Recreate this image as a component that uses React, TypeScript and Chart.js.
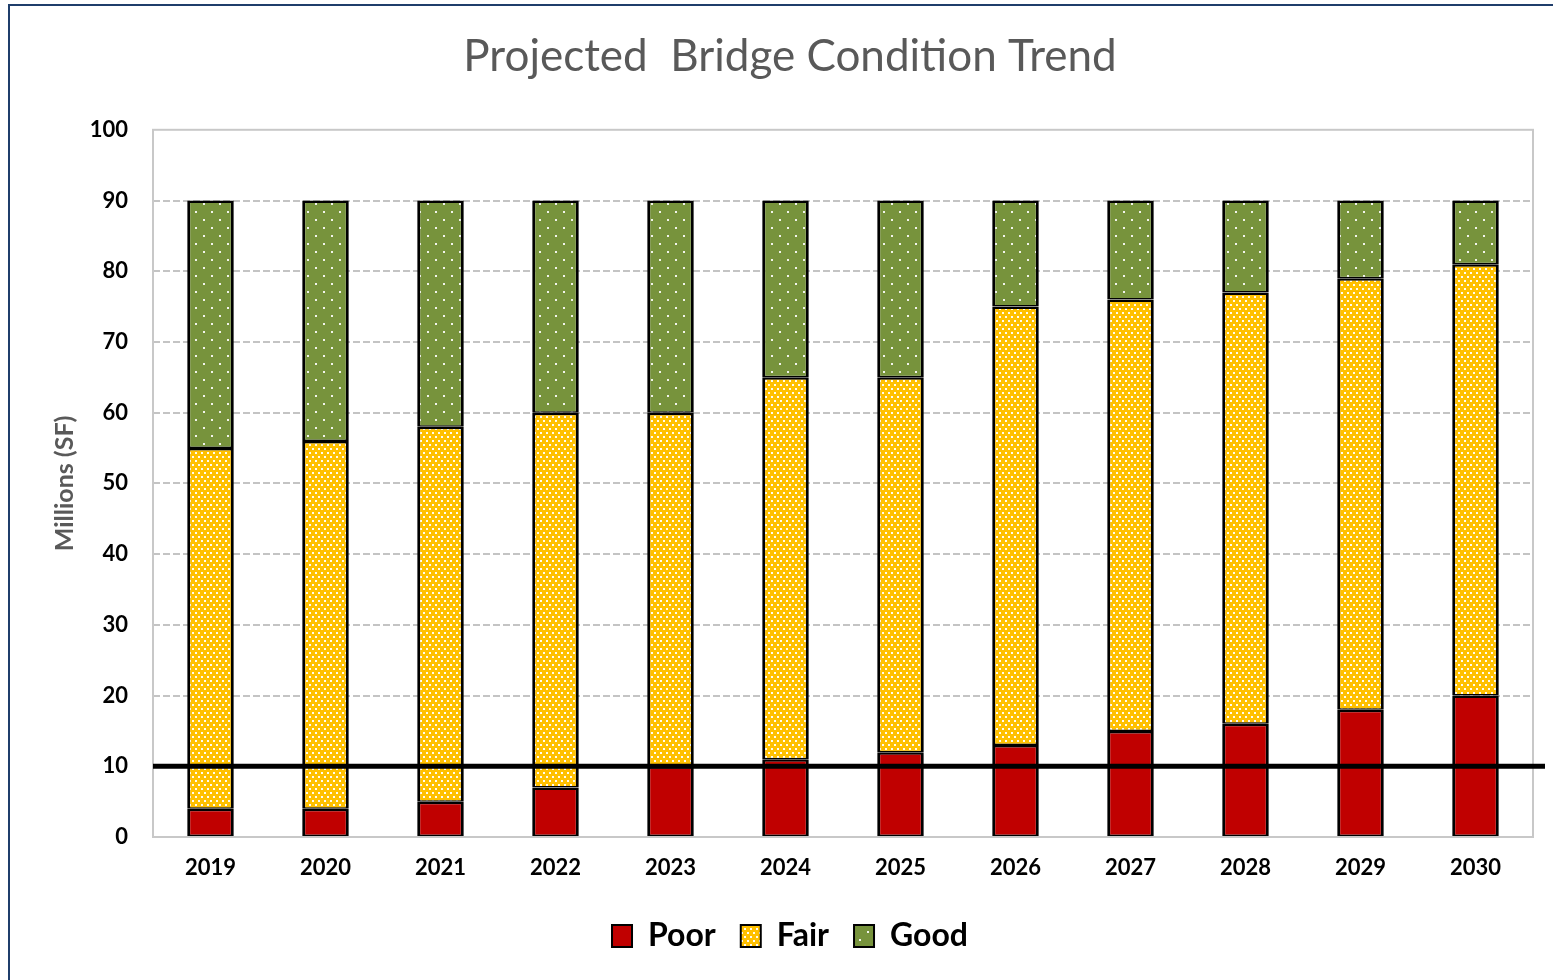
import React, { useEffect, useRef } from 'react';
import { Chart, registerables } from 'chart.js';

Chart.register(...registerables);

const years = ['2019', '2020', '2021', '2022', '2023', '2024', '2025', '2026', '2027', '2028', '2029', '2030'];
const poorValues = [4, 4, 5, 7, 10, 11, 12, 13, 15, 16, 18, 20];
const fairValues = [51, 52, 53, 53, 50, 54, 53, 62, 61, 61, 61, 61];
const goodValues = [35, 34, 32, 30, 30, 25, 25, 15, 14, 13, 11, 9];
const seriesNames = ['Poor', 'Fair', 'Good'];
const thresholdValue = 10;
const chartTitle = 'Projected  Bridge Condition Trend';
const yAxisTitle = 'Millions (SF)';

const FONT = 'Lato';

function makePattern(bg: string, dots: number[][], w: number, h: number, size: number, alpha: number) {
  const c = document.createElement('canvas');
  c.width = w;
  c.height = h;
  const ctx = c.getContext('2d')!;
  ctx.fillStyle = bg;
  ctx.fillRect(0, 0, w, h);
  ctx.fillStyle = `rgba(255,255,255,${alpha})`;
  dots.forEach(([x, y]) => ctx.fillRect(x, y, size, size));
  const main = document.createElement('canvas').getContext('2d')!;
  return main.createPattern(c, 'repeat') as CanvasPattern;
}

export default function App() {
  const ref = useRef<HTMLCanvasElement | null>(null);

  useEffect(() => {
    if (!ref.current) return;
    const fairPattern = makePattern('#FFC000', [[0, 0], [3, 4]], 6, 8, 2, 0.95);
    const goodPattern = makePattern('#77933C', [[3, 3], [11, 11]], 16, 16, 2, 0.9);
    const bw = { left: 3, right: 3, top: 2.5, bottom: 1.5 };

    const plotFrame = {
      id: 'plotFrame',
      beforeDatasetsDraw(chart: any) {
        const { ctx, chartArea } = chart;
        ctx.save();
        ctx.strokeStyle = '#c8c8c8';
        ctx.lineWidth = 2;
        ctx.strokeRect(chartArea.left, chartArea.top, chartArea.right - chartArea.left, chartArea.bottom - chartArea.top);
        ctx.restore();
      },
    };

    const threshold = {
      id: 'threshold',
      afterDatasetsDraw(chart: any) {
        const { ctx, chartArea, scales } = chart;
        const y = scales.y.getPixelForValue(thresholdValue);
        ctx.save();
        ctx.strokeStyle = '#000000';
        ctx.lineWidth = 5;
        ctx.beginPath();
        ctx.moveTo(chartArea.left, y);
        ctx.lineTo(chartArea.right + 12, y);
        ctx.stroke();
        ctx.restore();
      },
    };

    const chart = new Chart(ref.current, {
      type: 'bar',
      data: {
        labels: years,
        datasets: [
          { label: seriesNames[0], data: poorValues, backgroundColor: '#C00000', borderColor: '#000000', borderWidth: bw, borderSkipped: false },
          { label: seriesNames[1], data: fairValues, backgroundColor: fairPattern as any, borderColor: '#000000', borderWidth: bw, borderSkipped: false },
          { label: seriesNames[2], data: goodValues, backgroundColor: goodPattern as any, borderColor: '#000000', borderWidth: bw, borderSkipped: false },
        ],
      },
      options: {
        responsive: false,
        animation: false,
        layout: { padding: { left: 47, right: 20, top: 0, bottom: 18 } },
        datasets: { bar: { barPercentage: 0.405, categoryPercentage: 1 } },
        plugins: {
          title: {
            display: true,
            text: chartTitle,
            color: '#595959',
            font: { family: FONT, size: 44, weight: 'normal' },
            padding: { top: 30, bottom: 47 },
          },
          legend: {
            display: true,
            position: 'bottom',
            labels: {
              color: '#000000',
              font: { family: FONT, size: 32, weight: 'bold' },
              boxWidth: 20,
              boxHeight: 22,
              padding: 25,
              generateLabels: (c: any) => {
                const items = Chart.defaults.plugins.legend.labels.generateLabels(c);
                items.forEach((it: any) => { it.lineWidth = 2; });
                return items;
              },
            },
          },
          tooltip: { enabled: false },
        },
        scales: {
          x: {
            stacked: true,
            grid: { display: false, drawTicks: false },
            border: { display: false },
            ticks: { color: '#000000', font: { family: FONT, size: 22, weight: 'bold' }, padding: 18 },
            afterFit: (s: any) => { s.height = 58; },
          },
          y: {
            stacked: true,
            min: 0,
            max: 100,
            ticks: { stepSize: 10, color: '#000000', font: { family: FONT, size: 22, weight: 'bold' }, padding: 25 },
            grid: {
              drawTicks: false,
              lineWidth: 2,
              color: (c: any) => (c.tick && (c.tick.value === 0 || c.tick.value === 100) ? 'rgba(0,0,0,0)' : '#c4c4c4'),
            },
            border: { display: false, dash: [7, 3] },
            title: {
              display: true,
              text: yAxisTitle,
              color: '#595959',
              font: { family: FONT, size: 25, weight: 'bold' },
              padding: { top: 3, bottom: 0 },
            },
            afterFit: (s: any) => { s.width = 106; },
          },
        },
      },
      plugins: [plotFrame, threshold],
    });
    return () => chart.destroy();
  }, []);

  return (
    <div style={{ position: 'absolute', left: 0, top: 0, width: 1553, height: 980, background: '#ffffff', overflow: 'hidden' }}>
      <div style={{ position: 'absolute', left: 8, top: 4, width: 1700, height: 1100, borderLeft: '2px solid #1F3E6B', borderTop: '2px solid #1F3E6B' }} />
      <canvas ref={ref} width={1553} height={980} style={{ position: 'absolute', left: 0, top: 0 }} />
    </div>
  );
}
